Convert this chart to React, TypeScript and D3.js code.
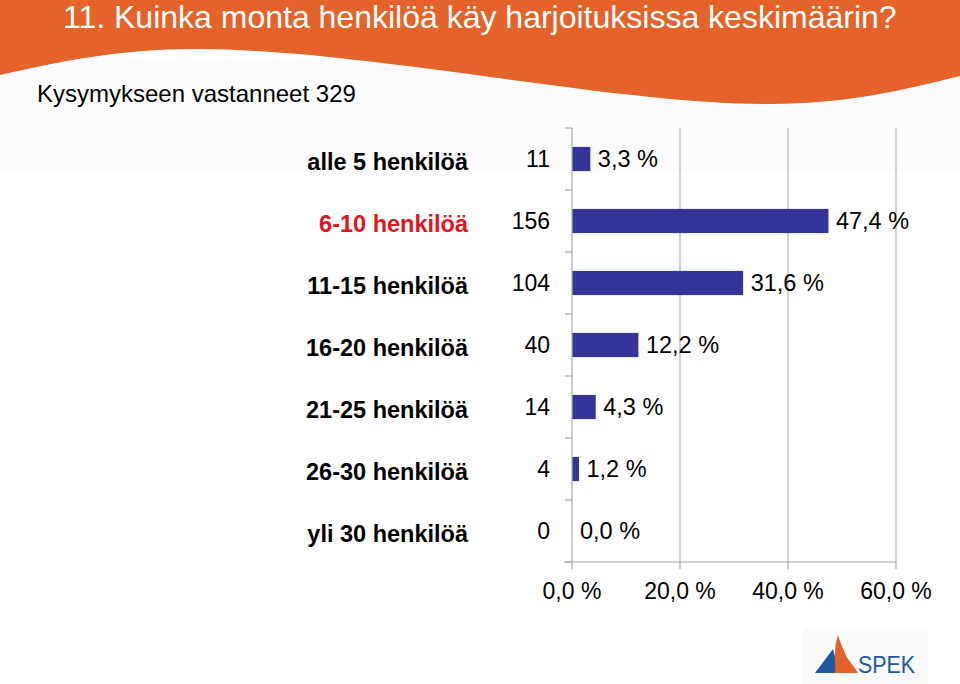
import React from "react";
import * as d3 from "d3";

const title = "11. Kuinka monta henkilöä käy harjoituksissa keskimäärin?";
const subtitle = "Kysymykseen vastanneet 329";
const categories = [
  "alle 5 henkilöä",
  "6-10 henkilöä",
  "11-15 henkilöä",
  "16-20 henkilöä",
  "21-25 henkilöä",
  "26-30 henkilöä",
  "yli 30 henkilöä",
];
const counts = [11, 156, 104, 40, 14, 4, 0];
const percents = [3.3, 47.4, 31.6, 12.2, 4.3, 1.2, 0.0];
const xTicks = [0, 20, 40, 60];
const highlighted = "6-10 henkilöä";

const W = 960;
const H = 684;
const FONT = "'Liberation Sans', Arial, sans-serif";

const fmt = (v: number) => v.toFixed(1).replace(".", ",") + " %";

function waveReverse(pts: [number, number][]): string {
  const rev = pts.slice().reverse();
  const d = d3.line<[number, number]>().curve(d3.curveNatural)(rev) as string;
  return "L" + d.slice(1) + " Z";
}

export default function App() {
  const x = d3.scaleLinear().domain([0, 60]).range([572, 896]);
  const y = d3
    .scaleBand<string>()
    .domain(categories)
    .range([128, 562])
    .paddingInner(0.61)
    .paddingOuter(0.305);
  const step = y.step();
  const top = 128;
  const bottom = 562;
  const x0 = x(0);

  const wavePts: [number, number][] = [
    [0, 75],
    [200, 49],
    [490, 77],
    [770, 104],
    [960, 76],
  ];

  const boundaries = d3.range(categories.length + 1).map((i) => top + i * step);

  return (
    <svg
      width={W}
      height={H}
      style={{ position: "absolute", left: 0, top: 0, background: "#fff" }}
      fontFamily={FONT}
    >
      <rect x={0} y={0} width={W} height={H} fill="#ffffff" />
      <rect x={0} y={60} width={W} height={112} fill="#fcfcfc" />
      {/* header */}
      <path d={`M0,0 L960,0 L960,76 ` + waveReverse(wavePts)} fill="#e4632a" />
      <text x={63} y={28} fontSize={32} fill="#ffffff">
        {title}
      </text>
      <text x={37} y={102} fontSize={24} fill="#000">
        {subtitle}
      </text>

      {/* gridlines */}
      {xTicks.slice(1).map((t) => (
        <line key={"g" + t} x1={x(t)} x2={x(t)} y1={top} y2={bottom} stroke="#b4b4b4" strokeWidth={1.2} />
      ))}
      {/* axes */}
      <line x1={x0} x2={x0} y1={top} y2={bottom} stroke="#a8a8a8" strokeWidth={1.2} />
      <line x1={x0 - 8} x2={x(60)} y1={bottom} y2={bottom} stroke="#a8a8a8" strokeWidth={1.2} />
      {boundaries.map((b, i) => (
        <line key={"yt" + i} x1={x0 - 7} x2={x0} y1={b} y2={b} stroke="#a8a8a8" strokeWidth={1.2} />
      ))}
      {xTicks.map((t) => (
        <line key={"xt" + t} x1={x(t)} x2={x(t)} y1={bottom} y2={bottom + 7} stroke="#a8a8a8" strokeWidth={1.2} />
      ))}
      {xTicks.map((t) => (
        <text key={"xl" + t} x={x(t)} y={599} fontSize={23} textAnchor="middle" fill="#000">
          {fmt(t)}
        </text>
      ))}

      {/* bars */}
      {categories.map((c, i) => {
        const by = y(c) as number;
        const cy = by + y.bandwidth() / 2;
        const w = x(percents[i]) - x0;
        return (
          <g key={c}>
            {w > 0 && <rect x={x0 + 0.5} y={by} width={w} height={y.bandwidth()} fill="#333399" />}
            <text x={x(percents[i]) + 8} y={cy + 8} fontSize={23.5} fill="#000">
              {fmt(percents[i])}
            </text>
            <text x={550} y={cy + 8} fontSize={23} textAnchor="end" fill="#000">
              {counts[i]}
            </text>
            <text
              x={468}
              y={cy + 11}
              fontSize={23.5}
              fontWeight="bold"
              textAnchor="end"
              fill={c === highlighted ? "#e2141c" : "#000"}
            >
              {c}
            </text>
          </g>
        );
      })}

      {/* logo */}
      <rect x={803} y={628} width={125} height={56} fill="#fafafa" />
      <path d="M815,673 L833,649 L839,673 Z" fill="#2159a0" />
      <path
        d="M835,673 C836,660 833,650 838,635 C842,648 845,652 846,656 C850,662 855,668 858,673 Z"
        fill="#e4632a"
      />
      <text x={858} y={673} fontSize={24} fill="#2159a0" textLength={57} lengthAdjust="spacingAndGlyphs">
        SPEK
      </text>
    </svg>
  );
}
